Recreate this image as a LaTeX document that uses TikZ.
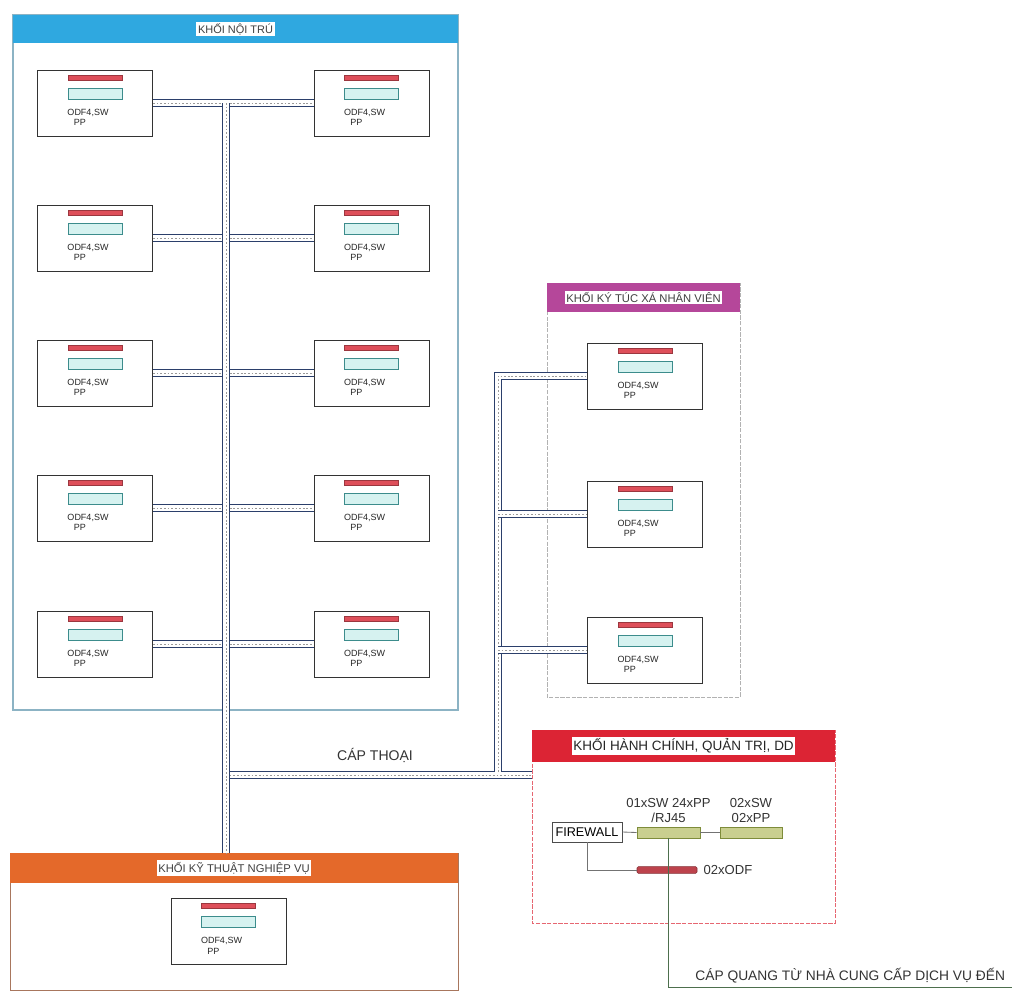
\documentclass[tikz,border=0pt]{standalone}
\usepackage{fontspec}
\setmainfont{Liberation Sans}
\usepackage{tikz}
\usetikzlibrary{positioning}
\definecolor{HeadBlue}{HTML}{2FA8E0}
\definecolor{HeadMagenta}{HTML}{B5479A}
\definecolor{HeadRed}{HTML}{DC2434}
\definecolor{HeadOrange}{HTML}{E4692A}
\definecolor{PipeNavy}{HTML}{2B3F6B}
\definecolor{OdfRed}{HTML}{DE4F5A}
\definecolor{SwCyan}{HTML}{D6F2F0}
\definecolor{SwTeal}{HTML}{3C8C8C}
\definecolor{PpOlive}{HTML}{C9CF8F}
\definecolor{PpOliveDark}{HTML}{7E8C3A}
\definecolor{FiberGreen}{HTML}{6E9E6E}
\tikzset{
  devtxt/.style={font=\fontsize{6.4}{7.6}\selectfont,align=left,inner sep=0pt,text=black!85},
  devnode/.style={draw=black!80,line width=0.6pt,fill=white,
    minimum width=2.875cm,minimum height=1.65cm,inner sep=0pt,
    path picture={
      \draw[draw=OdfRed!70!black,fill=OdfRed,line width=0.3pt]
        ([xshift=-0.675cm,yshift=-0.13cm]path picture bounding box.north) rectangle ++(1.35cm,-0.12cm);
      \draw[draw=SwTeal,fill=SwCyan,line width=0.4pt]
        ([xshift=-0.675cm,yshift=-0.45cm]path picture bounding box.north) rectangle ++(1.35cm,-0.27cm);
    },
    label={[devtxt,xshift=-0.175cm,yshift=-0.36cm]center:{ODF4,SW\\\hspace*{4.5pt}PP}}},
  hdbar/.style={draw=none,inner sep=0pt},
  hdtxt/.style={fill=white,inner sep=1.2pt,text=black!75},
  pipeC/.style={draw=gray!80,line width=0.4pt,dash pattern=on 1.3pt off 1.3pt,
    preaction={draw=PipeNavy,line width=5.6pt,solid},
    preaction={draw=white,line width=4.2pt,solid}},
  thinline/.style={draw=black!55,line width=0.6pt},
  fiber/.style={draw=FiberGreen!70!black,line width=0.7pt},
  fwnode/.style={draw=black!70,line width=0.6pt,fill=white,minimum width=1.75cm,
    minimum height=0.5cm,inner sep=1pt,font=\fontsize{9}{10}\selectfont},
  ppbar/.style={draw=PpOliveDark,fill=PpOlive,line width=0.5pt,
    minimum height=0.275cm,inner sep=0pt},
  odfbar/.style={draw=OdfRed!60!black,fill=OdfRed!85!black,line width=0.4pt,
    minimum width=1.5cm,minimum height=0.17cm,inner sep=0pt,rounded corners=1pt},
  hclbl/.style={font=\fontsize{9.3}{10.3}\selectfont,align=center,inner sep=0pt,text=black!80},
}
\begin{document}
\begin{tikzpicture}[x=0.025cm,y=-0.025cm]
  \useasboundingbox (0,0) rectangle (1012,992);
  % block frames
  \draw[draw=HeadBlue!45!gray!70,line width=0.8pt] (13,15) rectangle (458,710);
  \draw[draw=gray!60,line width=0.6pt,dash pattern=on 3pt off 1pt] (547,283) rectangle (740,697);
  \draw[draw=HeadRed!70,line width=0.6pt,dash pattern=on 3pt off 1pt] (532,730) rectangle (835,923);
  \draw[draw=HeadOrange!40!gray,line width=0.6pt] (10,853) rectangle (458,990);
  % headers
  \node[hdbar,fill=HeadBlue,minimum width=11.125cm,minimum height=0.7cm] (nthead) at (235.5,29) {};
  \node[hdtxt,font=\fontsize{7.8}{9}\selectfont] (ntlbl) at (nthead) {KHỐI NỘI TRÚ};
  \node[hdbar,fill=HeadMagenta,minimum width=4.825cm,minimum height=0.725cm] (kxhead) at (643.5,297.5) {};
  \node[hdtxt,font=\fontsize{8}{9}\selectfont] (kxlbl) at (kxhead) {KHỐI KÝ TÚC XÁ NHÂN VIÊN};
  \node[hdbar,fill=HeadRed,minimum width=7.575cm,minimum height=0.8cm] (hchead) at (683.5,746) {};
  \node[hdtxt,font=\fontsize{9.6}{11}\selectfont,text=black!85] (hclbl) at (hchead) {KHỐI HÀNH CHÍNH, QUẢN TRỊ, DD};
  \node[hdbar,fill=HeadOrange,minimum width=11.2cm,minimum height=0.75cm] (kthead) at (234,868) {};
  \node[hdtxt,font=\fontsize{8}{9}\selectfont] (ktlbl) at (kthead) {KHỐI KỸ THUẬT NGHIỆP VỤ};
  % devices
  \node[devnode] (ntL1) at (95,103) {};
  \node[devnode] (ntR1) at (371.5,103) {};
  \node[devnode] (ntL2) at (95,238) {};
  \node[devnode] (ntR2) at (371.5,238) {};
  \node[devnode] (ntL3) at (95,373) {};
  \node[devnode] (ntR3) at (371.5,373) {};
  \node[devnode] (ntL4) at (95,508) {};
  \node[devnode] (ntR4) at (371.5,508) {};
  \node[devnode] (ntL5) at (95,644) {};
  \node[devnode] (ntR5) at (371.5,644) {};
  \node[devnode] (kx1) at (645,376) {};
  \node[devnode] (kx2) at (645,514) {};
  \node[devnode] (kx3) at (645,650) {};
  \node[devnode] (kt1) at (228.5,931.5) {};
  % cables
  \coordinate (trunkTop) at (226,103);
  \coordinate (phoneL) at (226,775);
  \coordinate (kxRise) at (498,772);
  \coordinate (hcW) at (532,775);
  \draw[pipeC] (ntL1.east) -- (ntR1.west);
  \draw[pipeC] (ntL2.east) -- (ntR2.west);
  \draw[pipeC] (ntL3.east) -- (ntR3.west);
  \draw[pipeC] (ntL4.east) -- (ntR4.west);
  \draw[pipeC] (ntL5.east) -- (ntR5.west);
  \draw[pipeC] (phoneL) -- (hcW);
  \draw[pipeC] (kxRise) |- (kx1.west);
  \draw[pipeC] (kx2.west -| kxRise) -- (kx2.west);
  \draw[pipeC] (kx3.west -| kxRise) -- (kx3.west);
  \draw[pipeC] (trunkTop) -- (trunkTop |- kthead.north);
  \node[font=\fontsize{10}{11}\selectfont,text=black!80] (phonelbl) at (375,755) {CÁP THOẠI};
  % admin block
  \node[fwnode] (fw) at (587,832) {FIREWALL};
  \node[ppbar,minimum width=1.575cm] (sw1) at (668.5,832.5) {};
  \node[ppbar,minimum width=1.55cm] (sw2) at (751,832.5) {};
  \node[odfbar] (odf) at (667,870) {};
  \node[hclbl,above=0.1cm of sw1] (sw1lbl) {01xSW 24xPP\\/RJ45};
  \node[hclbl,above=0.1cm of sw2] (sw2lbl) {02xSW\\02xPP};
  \node[hclbl,right=0.15cm of odf] (odflbl) {02xODF};
  \draw[thinline] (fw.east) -- (sw1.west);
  \draw[thinline] (sw1.east) -- (sw2.west);
  \draw[thinline] (fw.south) |- (odf.west);
  \coordinate (isp) at (1012,987);
  \draw[fiber] (isp) -| (sw1.south);
  \node[font=\fontsize{9.8}{11}\selectfont,text=black!80,anchor=base east] (isplbl) at (1010,980)
    {CÁP QUANG TỪ NHÀ CUNG CẤP DỊCH VỤ ĐẾN};
\end{tikzpicture}
\end{document}
